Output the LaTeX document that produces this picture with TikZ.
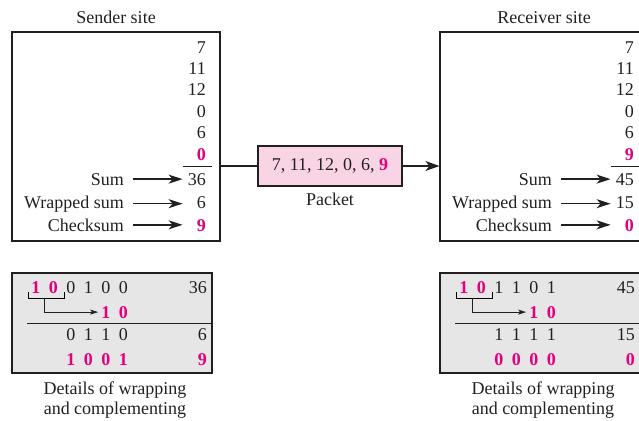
\documentclass[tikz,border=0pt]{standalone}
\usepackage{fontspec}
\setmainfont{Liberation Serif}
\usetikzlibrary{arrows.meta,positioning}
\definecolor{hotpink}{RGB}{228,0,124}
\definecolor{packetpink}{RGB}{248,212,228}
\definecolor{detgray}{RGB}{230,230,230}
\definecolor{ink}{RGB}{35,31,32}
\newcommand{\bsp}{\hspace{8.5pt}}

\begin{document}
\begin{tikzpicture}[x=1pt,y=-1pt,
	every node/.style={font=\fontsize{18}{20}\selectfont, text=ink, inner sep=0pt},
	site/.style={draw=ink, line width=1.1pt, minimum width=208pt, minimum height=209pt},
	num/.style={anchor=base east, text width=22pt, align=right},
	lab/.style={anchor=base east},
	arr/.style={draw=ink, line width=1.5pt, -{Stealth[length=14pt,width=9pt,inset=4pt]}, shorten <=9pt, shorten >=1pt},
	hot/.style={text=hotpink, font=\fontsize{18}{20}\selectfont\bfseries},
	detail/.style={draw=ink, line width=1.3pt, fill=detgray, minimum width=200pt, minimum height=100pt},
	bits/.style={anchor=base east},
	tip/.style={draw=ink, line width=0.7pt, -{Stealth[length=8pt,width=5pt,inset=2pt]}}]
	\useasboundingbox (0,0) rectangle (639,420);
	% sender site
	\node[site] (sbox) at (116,136.5) {};
	\node[above=8pt of sbox] (stitle) {Sender site};
	\foreach \v [count=\i] in {7,11,12,0,6}
		\node[num] (s\i) at (206,53+21.4*\i-21.4) {\v};
	\node[num,hot] (s6) at (206,160) {0};
	\draw[ink, line width=0.8pt] (183,166) -- (212,166);
	\node[num] (ssum) at (206,185) {36};
	\node[num] (swrap) at (206,208) {6};
	\node[num,hot] (scheck) at (206,231) {9};
	\node[lab] (slsum) at (124,185) {Sum};
	\node[lab] (slwrap) at (124,208) {Wrapped sum};
	\node[lab] (slcheck) at (124,231) {Checksum};
	\foreach \a/\b in {slsum/ssum, slwrap/swrap, slcheck/scheck}
		\draw[arr] (\a.east) -- (\a.east -| \b.west);
	% sender details
	\node[detail] (sdet) at (112,323) {};
	\node[bits,hot] (scarry) at (58,293) {1\bsp0};
	\node[bits] (srow1) at (128,293) {0\bsp1\bsp0\bsp0};
	\node[bits] (sv1) at (207,293) {36};
	\node[bits,hot] (sadd) at (128,318) {1\bsp0};
	\draw[line width=0.8pt] (scarry.base west) ++(-3,-1) -- ++(0,6) -| ++(36,-6);
	\draw[tip] (scarry.base) ++(0,5) |- ([xshift=-3pt]sadd.west);
	\draw[ink, line width=0.8pt] (27,323) -- (212,323);
	\node[bits] (srow3) at (128,340) {0\bsp1\bsp1\bsp0};
	\node[bits] (sv3) at (207,340) {6};
	\node[bits,hot] (srow4) at (128,365) {1\bsp0\bsp0\bsp1};
	\node[bits,hot] (sv4) at (207,365) {9};
	\node[below=8pt of sdet, xshift=3pt, align=center] (scap) {Details of wrapping\\and complementing};
	% receiver site
	\begin{scope}[xshift=428pt]
		\node[site] (rbox) at (116,136.5) {};
		\node[above=8pt of rbox] (rtitle) {Receiver site};
		\foreach \v [count=\i] in {7,11,12,0,6}
			\node[num] (r\i) at (206,53+21.4*\i-21.4) {\v};
		\node[num,hot] (r6) at (206,160) {9};
		\draw[ink, line width=0.8pt] (183,166) -- (212,166);
		\node[num] (rsum) at (206,185) {45};
		\node[num] (rwrap) at (206,208) {15};
		\node[num,hot] (rcheck) at (206,231) {0};
		\node[lab] (rlsum) at (124,185) {Sum};
		\node[lab] (rlwrap) at (124,208) {Wrapped sum};
		\node[lab] (rlcheck) at (124,231) {Checksum};
		\foreach \a/\b in {rlsum/rsum, rlwrap/rwrap, rlcheck/rcheck}
			\draw[arr] (\a.east) -- (\a.east -| \b.west);
		% receiver details
		\node[detail] (rdet) at (112,323) {};
		\node[bits,hot] (rcarry) at (58,293) {1\bsp0};
		\node[bits] (rrow1) at (128,293) {1\bsp1\bsp0\bsp1};
		\node[bits] (rv1) at (207,293) {45};
		\node[bits,hot] (radd) at (128,318) {1\bsp0};
		\draw[line width=0.8pt] (rcarry.base west) ++(-3,-1) -- ++(0,6) -| ++(36,-6);
		\draw[tip] (rcarry.base) ++(0,5) |- ([xshift=-3pt]radd.west);
		\draw[ink, line width=0.8pt] (27,323) -- (212,323);
		\node[bits] (rrow3) at (128,340) {1\bsp1\bsp1\bsp1};
		\node[bits] (rv3) at (207,340) {15};
		\node[bits,hot] (rrow4) at (128,365) {0\bsp0\bsp0\bsp0};
		\node[bits,hot] (rv4) at (207,365) {0};
		\node[below=8pt of rdet, xshift=3pt, align=center] (rcap) {Details of wrapping\\and complementing};
	\end{scope}
	% packet
	\node[draw=ink, line width=2pt, fill=packetpink, minimum width=144pt, minimum height=40pt] (packet) at (330,166) {7, 11, 12, 0, 6, \textcolor{hotpink}{\textbf{9}}};
	\node[below=6pt of packet] (plabel) {Packet};
	\draw[ink, line width=1.5pt] (packet.west) -- (packet.west -| sbox.east);
	\draw[ink, line width=1.5pt, -{Stealth[length=14pt,width=10pt,inset=4pt]}] (packet.east) -- (packet.east -| rbox.west);
\end{tikzpicture}
\end{document}
